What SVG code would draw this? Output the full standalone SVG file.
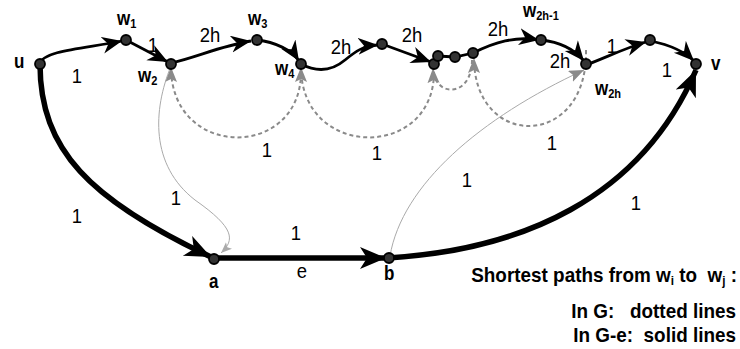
<svg xmlns="http://www.w3.org/2000/svg" width="740" height="349" viewBox="0 0 740 349">
<style>
.e{fill:none;stroke:#000;stroke-width:2.8}
.t{fill:none;stroke:#000;stroke-width:5.5}
.d{fill:none;stroke:#8a8a8a;stroke-width:2;stroke-dasharray:4 3}
.g{fill:none;stroke:#aaa;stroke-width:1}
.n{fill:#333;stroke:#000;stroke-width:1.8}
.lb{font-family:"Liberation Sans",Arial,sans-serif;font-weight:bold;font-size:20px;fill:#000}
.sb{font-size:13px}
.el{font-family:"Liberation Sans",Arial,sans-serif;font-size:21px;fill:#000;text-anchor:middle}
.lg{font-family:"Liberation Sans",Arial,sans-serif;font-weight:bold;font-size:21px;fill:#000;text-anchor:end}
</style>
<defs>
<marker id="aS" markerUnits="userSpaceOnUse" markerWidth="21" markerHeight="18" refX="20" refY="8.5" orient="auto"><path d="M0,0 L20,8.5 L0,17 L6,8.5 z" fill="#000"/></marker>
<marker id="aL" markerUnits="userSpaceOnUse" markerWidth="27" markerHeight="23" refX="26" refY="11" orient="auto"><path d="M0,0 L26,11 L0,22 L7,11 z" fill="#000"/></marker>
<marker id="aG" markerUnits="userSpaceOnUse" markerWidth="16" markerHeight="13" refX="15" refY="6" orient="auto"><path d="M0,0 L15,6 L0,12 L3,6 z" fill="#8a8a8a"/></marker>
<marker id="aT" markerUnits="userSpaceOnUse" markerWidth="12" markerHeight="10" refX="11" refY="4.5" orient="auto"><path d="M0,0 L11,4.5 L0,9 L2.5,4.5 z" fill="#aaa"/></marker>
</defs>
<g id="connectors">
<path class="d" d="M301,72 C301,160 171,160 171,67" marker-end="url(#aG)"/>
<path class="d" d="M434,72 C434,160 301,160 301,67" marker-end="url(#aG)"/>
<path class="d" d="M472,60 C472,98 434,98 433,68" marker-end="url(#aG)"/>
<path class="d" d="M586,50 C588,150 474,150 474,58" marker-end="url(#aG)"/>
<path class="g" d="M171,66 C153,110 150,165 195,200 C235,228 235,240 221,253" marker-end="url(#aT)"/>
<path class="g" d="M390,256 C402,185 480,118 584,70" marker-end="url(#aG)"/>
<path class="e" d="M40,64 C42,50 90,48 122,41" marker-end="url(#aS)"/>
<path class="e" d="M126,40 L168,62" marker-end="url(#aS)"/>
<path class="e" d="M171,63 C195,58 220,46 251,41" marker-end="url(#aS)"/>
<path class="e" d="M257,40 C275,42 292,50 299,61" marker-end="url(#aS)"/>
<path class="e" d="M301,64 C318,73 332,71 345,60 C355,52 362,46 378,45" marker-end="url(#aS)"/>
<path class="e" d="M382,44 L431,62" marker-end="url(#aS)"/>
<path class="e" d="M434,64 L438,56 L455,57 L473,53 C495,42 515,36 539,40" marker-end="url(#aS)"/>
<path class="e" d="M541,40 C560,42 575,50 584,61" marker-end="url(#aS)"/>
<path class="e" d="M586,65 C605,58 625,48 646,42" marker-end="url(#aS)"/>
<path class="e" d="M651,41 C670,45 685,52 694,61" marker-end="url(#aS)"/>
<path class="t" d="M40,64 C40,150 90,200 211,257" marker-end="url(#aL)"/>
<path class="t" d="M215,258 L386,258" marker-end="url(#aL)"/>
<path class="t" d="M388,258 C520,250 640,200 696,70" marker-end="url(#aL)"/>
</g>
<g id="u"><circle class="n" cx="40" cy="64" r="5"/><text class="lb" transform="translate(14,68) scale(0.85,1)">u</text></g>
<g id="w1"><circle class="n" cx="126" cy="40" r="5"/><text class="lb" transform="translate(117,25) scale(0.85,1)">w<tspan class="sb" dy="3">1</tspan></text></g>
<g id="w2"><circle class="n" cx="171" cy="64" r="5"/><text class="lb" transform="translate(138,82) scale(0.85,1)">w<tspan class="sb" dy="3">2</tspan></text></g>
<g id="w3"><circle class="n" cx="257" cy="40" r="5"/><text class="lb" transform="translate(248,25) scale(0.85,1)">w<tspan class="sb" dy="3">3</tspan></text></g>
<g id="w4"><circle class="n" cx="301" cy="64" r="5"/><text class="lb" transform="translate(275,75) scale(0.85,1)">w<tspan class="sb" dy="3">4</tspan></text></g>
<g id="n5"><circle class="n" cx="382" cy="44" r="5"/></g>
<g id="c1"><circle class="n" cx="434" cy="64" r="5"/></g>
<g id="c2"><circle class="n" cx="438" cy="56" r="5"/></g>
<g id="c3"><circle class="n" cx="455" cy="57" r="5"/></g>
<g id="c4"><circle class="n" cx="473" cy="53" r="5"/></g>
<g id="w2h-1"><circle class="n" cx="541" cy="40" r="5"/><text class="lb" transform="translate(523,17) scale(0.85,1)">w<tspan class="sb" dy="3">2h-1</tspan></text></g>
<g id="w2h"><circle class="n" cx="586" cy="64" r="5"/><text class="lb" transform="translate(595,95) scale(0.85,1)">w<tspan class="sb" dy="3">2h</tspan></text></g>
<g id="n6"><circle class="n" cx="650" cy="40" r="5"/></g>
<g id="v"><circle class="n" cx="696" cy="64" r="5"/><text class="lb" transform="translate(711,70) scale(0.85,1)">v</text></g>
<g id="a"><circle class="n" cx="214" cy="259" r="5"/><text class="lb" transform="translate(209,288) scale(0.85,1)">a</text></g>
<g id="b"><circle class="n" cx="389" cy="258" r="5"/><text class="lb" transform="translate(384,280) scale(0.85,1)">b</text></g>
<g id="labels">
<text class="el" transform="translate(77,83) scale(0.88,1)">1</text>
<text class="el" transform="translate(153,52) scale(0.88,1)">1</text>
<text class="el" transform="translate(210,42) scale(0.88,1)">2h</text>
<text class="el" transform="translate(341,54) scale(0.88,1)">2h</text>
<text class="el" transform="translate(412,42) scale(0.88,1)">2h</text>
<text class="el" transform="translate(498,36) scale(0.88,1)">2h</text>
<text class="el" transform="translate(560,68) scale(0.88,1)">2h</text>
<text class="el" transform="translate(612,53) scale(0.88,1)">1</text>
<text class="el" transform="translate(667,77) scale(0.88,1)">1</text>
<text class="el" transform="translate(267,157) scale(0.88,1)">1</text>
<text class="el" transform="translate(377,160) scale(0.88,1)">1</text>
<text class="el" transform="translate(552,150) scale(0.88,1)">1</text>
<text class="el" transform="translate(77,223) scale(0.88,1)">1</text>
<text class="el" transform="translate(176,205) scale(0.88,1)">1</text>
<text class="el" transform="translate(296,240) scale(0.88,1)">1</text>
<text class="el" transform="translate(302,278) scale(0.88,1)">e</text>
<text class="el" transform="translate(467,187) scale(0.88,1)">1</text>
<text class="el" transform="translate(636,210) scale(0.88,1)">1</text>
</g>
<g id="legend">
<text class="lg" transform="translate(737,282) scale(0.9,1)" xml:space="preserve">Shortest paths from w<tspan class="sb" dy="3">i</tspan><tspan dy="-3"> to  w</tspan><tspan class="sb" dy="3">j</tspan><tspan dy="-3"> :</tspan></text>
<text class="lg" transform="translate(736,318) scale(0.9,1)" xml:space="preserve">In G:   dotted lines</text>
<text class="lg" transform="translate(736,342) scale(0.9,1)" xml:space="preserve">In G-e:  solid lines</text>
</g>
</svg>
